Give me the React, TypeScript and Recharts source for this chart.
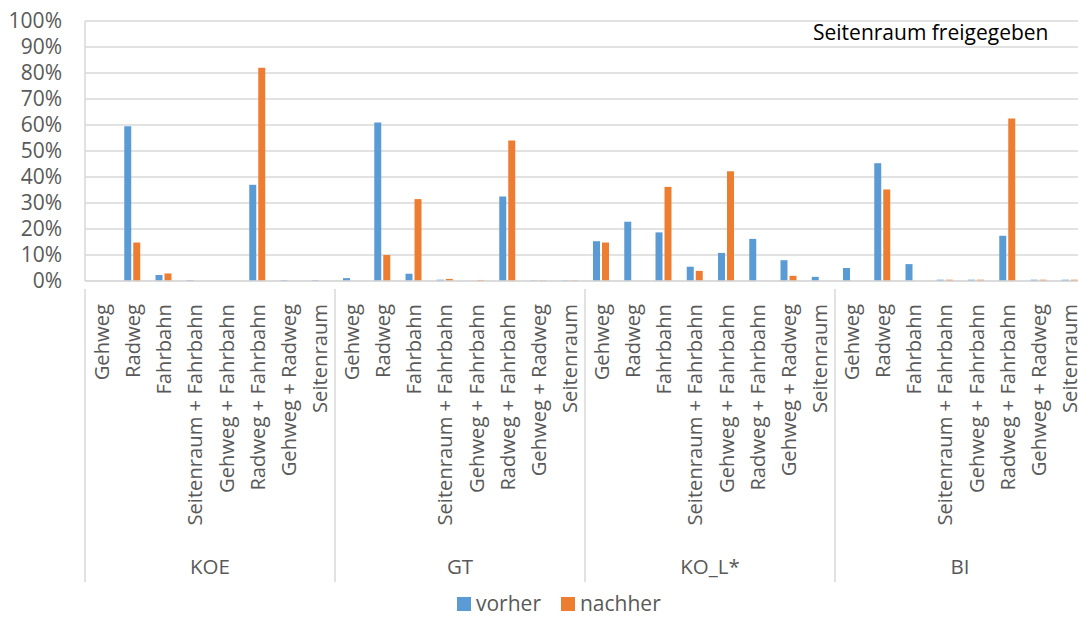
import React from "react";
import { BarChart, Bar, XAxis, YAxis, CartesianGrid, Legend } from "recharts";

const groups = ["KOE", "GT", "KO_L*", "BI"];
const categories = [
  "Gehweg",
  "Radweg",
  "Fahrbahn",
  "Seitenraum + Fahrbahn",
  "Gehweg + Fahrbahn",
  "Radweg + Fahrbahn",
  "Gehweg + Radweg",
  "Seitenraum",
];
const vorher = [
  [0, 59.5, 2.3, 0.3, 0, 37, 0.3, 0.3],
  [1.1, 61, 2.8, 0.5, 0, 32.5, 0.2, 0.2],
  [15.3, 22.8, 18.7, 5.5, 10.8, 16.2, 8, 1.6],
  [5, 45.3, 6.5, 0.5, 0.5, 17.4, 0.5, 0.5],
];
const nachher = [
  [0, 14.8, 2.9, 0, 0, 82, 0, 0],
  [0, 10, 31.5, 0.8, 0.4, 54, 0.2, 0.2],
  [14.8, 0, 36.2, 3.9, 42.2, 0, 2, 0],
  [0, 35.2, 0, 0.5, 0.5, 62.5, 0.5, 0.5],
];
const yTicks = [0, 10, 20, 30, 40, 50, 60, 70, 80, 90, 100];

const data = groups.flatMap((g, gi) =>
  categories.map((c, ci) => ({
    key: `${g}|${c}`,
    group: g,
    cat: c,
    idx: ci,
    vorher: vorher[gi][ci],
    nachher: nachher[gi][ci],
  }))
);

const FONT = "'Open Sans', sans-serif";
const TXT = "#595959";
const BLUE = "#5B9BD5";
const ORANGE = "#ED7D31";
const GRID = "#D9D9D9";

const CatTick = (props: any) => {
  const { x, y, payload, index } = props;
  const row = data[index];
  const half = payload && payload.offset ? payload.offset : 15.625;
  const ci = row ? row.idx : 0;
  return (
    <g>
      <text
        x={x}
        y={y + 15}
        transform={`rotate(-90, ${x}, ${y + 15})`}
        textAnchor="end"
        dominantBaseline="central"
        fill={TXT}
        fontSize={20.2}
        fontFamily={FONT}
      >
        {row ? row.cat : ""}
      </text>
      {ci === 0 && (
        <line x1={x - half} x2={x - half} y1={y} y2={y + 293} stroke={GRID} strokeWidth={1.5} />
      )}
      {ci === 3 && (
        <text
          x={x + half}
          y={y + 277}
          textAnchor="middle"
          dominantBaseline="central"
          fill={TXT}
          fontSize={20.5}
          fontFamily={FONT}
        >
          {row.group}
        </text>
      )}
    </g>
  );
};

const LegendContent = () => (
  <div
    style={{
      display: "flex",
      alignItems: "center",
      fontFamily: FONT,
      fontSize: 21,
      lineHeight: "21px",
      height: 21,
      color: TXT,
      whiteSpace: "nowrap",
    }}
  >
    <span style={{ width: 14, height: 14, background: BLUE, display: "inline-block", marginRight: 5 }} />
    <span style={{ marginRight: 20 }}>vorher</span>
    <span style={{ width: 14, height: 14, background: ORANGE, display: "inline-block", marginRight: 5 }} />
    <span>nachher</span>
  </div>
);

export default function App() {
  return (
    <div
      style={{
        position: "absolute",
        left: 0,
        top: 0,
        width: 1078,
        height: 619,
        overflow: "hidden",
        background: "#fff",
      }}
    >
      <BarChart
        width={1085}
        height={619}
        data={data}
        margin={{ top: 21, right: 0, left: 0, bottom: 22 }}
        barSize={7}
        barGap={2}
      >
        <CartesianGrid vertical={false} stroke={GRID} strokeWidth={1.5} />
        <XAxis
          dataKey="key"
          interval={0}
          tickLine={false}
          axisLine={{ stroke: GRID, strokeWidth: 1.5 }}
          height={295}
          tick={<CatTick />}
        />
        <YAxis
          domain={[0, 100]}
          ticks={yTicks}
          interval={0}
          width={85}
          tickSize={0}
          tickMargin={23}
          tickLine={false}
          axisLine={{ stroke: GRID, strokeWidth: 1.5 }}
          tickFormatter={(v: number) => `${v}%`}
          tick={{ fill: TXT, fontSize: 21, fontFamily: FONT }}
        />
        <Legend
          content={<LegendContent />}
          wrapperStyle={{ position: "absolute", left: 457, top: 593, width: 260, height: 21 }}
        />
        <Bar dataKey="vorher" fill={BLUE} isAnimationActive={false} />
        <Bar dataKey="nachher" fill={ORANGE} isAnimationActive={false} />
      </BarChart>
      <div
        style={{
          position: "absolute",
          left: 813,
          top: 18,
          fontFamily: FONT,
          fontSize: 21,
          color: "#000",
          whiteSpace: "nowrap",
        }}
      >
        Seitenraum freigegeben
      </div>
    </div>
  );
}
